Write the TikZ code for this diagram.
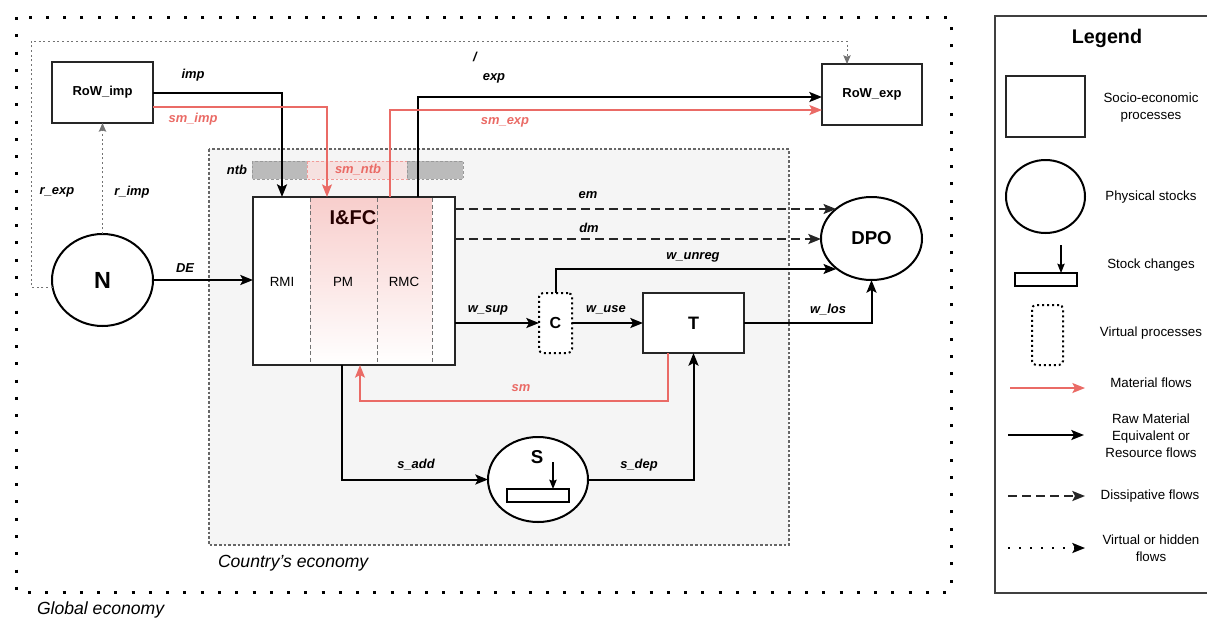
\documentclass[tikz,border=0pt]{standalone}
\usepackage{fontspec}
\setmainfont{Liberation Sans}
\usetikzlibrary{arrows.meta,calc,shapes.geometric}
\definecolor{redflow}{HTML}{EA6B66}
\definecolor{pinkfill}{HTML}{F8CECC}
\definecolor{pinkline}{HTML}{F19C99}
\definecolor{econfill}{HTML}{F5F5F5}
\definecolor{ntbgray}{HTML}{BBBBBB}
\begin{document}
\begin{tikzpicture}[x=0.75pt,y=-0.75pt,
  every node/.style={inner sep=0pt,outer sep=0pt},
  proc/.style={draw=black!85,line width=1.5pt,fill=white,rectangle},
  stock/.style={draw=black,line width=1.5pt,fill=white,ellipse},
  virtproc/.style={draw=black,line width=1.5pt,dash pattern=on 1.5pt off 2.25pt,rounded corners=3pt,fill=white,rectangle},
  tip/.style={-{Stealth[length=9.5pt,width=7.5pt,inset=2pt]}},
  rmflow/.style={tip,draw=black,line width=1.5pt},
  matflow/.style={tip,draw=redflow,line width=1.1pt},
  dissflow/.style={tip,draw=black!85,line width=1.5pt,dash pattern=on 6.75pt off 3.75pt},
  hidflow/.style={-{Stealth[length=6.5pt,width=5.5pt,inset=1pt]},draw=black!55,line width=0.75pt,dash pattern=on 1.5pt off 2pt},
  stockarrow/.style={-{Stealth[length=7pt,width=5.5pt,inset=1pt]},draw=black,line width=1pt},
  flab/.style={font=\fontsize{9.7}{11}\selectfont\bfseries\itshape},
  rflab/.style={flab,text=redflow},
  boxlab/.style={font=\fontsize{9.75}{11}\selectfont\bfseries},
  collab/.style={font=\fontsize{10}{12}\selectfont},
  leglab/.style={font=\fontsize{10}{12.7}\selectfont,align=center},
  arealab/.style={font=\fontsize{13.2}{15}\selectfont\itshape,anchor=west},
]
\useasboundingbox (0,0) rectangle (1207,619);

% Global economy frame
\draw[line width=2.25pt,dash pattern=on 2.25pt off 10.7pt] (16,17) rectangle (951,592);
% Country's economy
\draw[fill=econfill,draw=black!60,line width=2pt,dash pattern=on 2pt off 1.5pt] (209,149) rectangle (789,545);

% ntb strip
\draw[fill=ntbgray,draw=black!40,line width=0.75pt,dash pattern=on 2pt off 1.5pt] (252,161) rectangle (307,179);
\draw[fill=pinkfill,fill opacity=0.5,draw=pinkline,line width=0.75pt,dash pattern=on 2pt off 1.5pt] (307,161) rectangle (407,179);
\draw[fill=ntbgray,draw=black!40,line width=0.75pt,dash pattern=on 2pt off 1.5pt] (407,161) rectangle (463,179);

% main nodes
\node[proc,minimum width=101*0.75pt,minimum height=61*0.75pt] (RoWimp) at (102.5,92.5) {};
\node[proc,minimum width=100*0.75pt,minimum height=61*0.75pt] (RoWexp) at (872,94.5) {};
\node[stock,minimum width=101*0.75pt,minimum height=92*0.75pt] (N) at (102.5,280) {};
\node[proc,minimum width=202*0.75pt,minimum height=168*0.75pt] (IFC) at (354,281) {};
\node[virtproc,minimum width=33*0.75pt,minimum height=60*0.75pt] (C) at (555.5,323) {};
\node[proc,minimum width=101*0.75pt,minimum height=60*0.75pt] (T) at (693.5,323) {};
\node[stock,minimum width=101*0.75pt,minimum height=83*0.75pt] (DPO) at (871.5,238.5) {};
\node[stock,minimum width=100*0.75pt,minimum height=85*0.75pt] (S) at (538,479.5) {};

% I&FC interior
\shade[top color=pinkfill,bottom color=white] ($(IFC.north west)+(57,1)$) rectangle ($(IFC.south west)+(179,-1)$);
\foreach \dx in {57,124,179}{
  \draw[black!55,line width=0.5pt,dash pattern=on 3pt off 2pt] ($(IFC.north west)+(\dx,1)$) -- ($(IFC.south west)+(\dx,-1)$);
}
\draw[draw=black!85,line width=1.5pt] (IFC.north west) rectangle (IFC.south east);

% node texts
\node[boxlab] (tRoWimp) at (RoWimp.center) {RoW\_imp};
\node[boxlab] (tRoWexp) at (RoWexp.center) {RoW\_exp};
\node[font=\fontsize{17.5}{20}\selectfont\bfseries] (tN) at (N.center) {N};
\node[font=\fontsize{14}{16}\selectfont\bfseries] (tDPO) at (DPO.center) {DPO};
\node[font=\fontsize{13.5}{16}\selectfont\bfseries] (tT) at (T.center) {T};
\node[font=\fontsize{12}{14}\selectfont\bfseries] (tC) at (C.center) {C};
\node[font=\fontsize{15}{17}\selectfont\bfseries,text=black!85!red] (tIFC) at (353,218) {I\&FC};
\node[collab] (tRMI) at (282,282) {RMI};
\node[collab] (tPM) at (343,282) {PM};
\node[collab] (tRMC) at (404,282) {RMC};
\node[font=\fontsize{14}{16}\selectfont\bfseries] (tS) at (537,457) {S};
\node[draw=black,line width=1.2pt,fill=white,minimum width=62*0.75pt,minimum height=13*0.75pt] (Srect) at (538,495.5) {};
\coordinate (Sa) at (553,462);
\draw[stockarrow] (Sa) -- (Sa |- Srect.north);

% connectors: raw material / resource flows
\draw[rmflow] (RoWimp.east) -| ($(IFC.north west)+(29,0)$);
\draw[rmflow] ($(IFC.north west)+(165,0)$) |- ($(RoWexp.west)+(0,2.5)$);
\draw[rmflow] (N.east) -- (N.east -| IFC.west);
\draw[rmflow] (IFC.east |- C.west) -- (C.west);
\draw[rmflow] (C.east) -- (T.west);
\coordinate (wuc) at ($(C.north)+(0,-24)$);
\draw[rmflow] (C.north) -- (wuc) -- (wuc -| DPO.220);
\draw[rmflow] (T.east) -| (DPO.south);
\draw[rmflow] ($(IFC.south west)+(89,0)$) |- (S.west);
\draw[rmflow] (S.east) -| (T.south);

% material flows
\draw[matflow] ($(RoWimp.east)+(0,14.5)$) -| ($(IFC.north west)+(74,0)$);
\draw[matflow] ($(IFC.north west)+(137,0)$) |- ($(RoWexp.west)+(0,15.5)$);
\coordinate (smturn) at ($(T.south west)+(25,48)$);
\draw[matflow] ($(T.south west)+(25,0)$) -- (smturn) -| ($(IFC.south west)+(107,0)$);

% dissipative flows
\coordinate (ems) at ($(IFC.north east)+(0,12)$);
\coordinate (dms) at ($(IFC.north east)+(0,42)$);
\draw[dissflow] (ems) -- (ems -| DPO.140);
\draw[dissflow] (dms) -- (dms -| DPO.west);

% virtual / hidden flows
\draw[hidflow] (N.north) -- (RoWimp.south);
\coordinate (rx1) at (31,287);
\coordinate (rx2) at (31,41);
\coordinate (rx3) at ($(RoWexp.north west)+(25,0)$);
\draw[hidflow] (N.188) -- (N.188 -| rx1) -- (rx2) -- (rx2 -| rx3) -- (rx3);

% flow labels
\node[flab] (limp) at (193,75) {imp};
\node[rflab] (lsmimp) at (193,119) {sm\_imp};
\node[flab] (lexp) at (494,78) {exp};
\node[rflab] (lsmexp) at (505,122) {sm\_exp};
\node[flab] (lslash) at (475,57) {/};
\node[flab] (lrexp) at (57,192) {r\_exp};
\node[flab] (lrimp) at (132,192) {r\_imp};
\node[flab] (lDE) at (185,268) {DE};
\node[flab] (lntb) at (237,170) {ntb};
\node[rflab] (lsmntb) at (358,170) {sm\_ntb};
\node[flab] (lem) at (588,195) {em};
\node[flab] (ldm) at (589,228) {dm};
\node[flab] (lwunreg) at (693,257) {w\_unreg};
\node[flab] (lwsup) at (488,310) {w\_sup};
\node[flab] (lwuse) at (606,310) {w\_use};
\node[flab] (lwlos) at (828,310) {w\_los};
\node[rflab] (lsm) at (521,388) {sm};
\node[flab] (lsadd) at (416,465) {s\_add};
\node[flab] (lsdep) at (639,465) {s\_dep};

\node[arealab] (lcountry) at (218,563) {Country's economy};
\node[arealab] (lglobal) at (37,610) {Global economy};

% Legend
\draw[line width=2pt,draw=black!75] (995,16) rectangle (1215,593);
\node[font=\fontsize{14.8}{17}\selectfont\bfseries] (Ltitle) at (1107,38) {Legend};
\node[proc,minimum width=79*0.75pt,minimum height=61*0.75pt] (Lproc) at (1045.5,106.5) {};
\node[leglab] (Lproclab) at (1151,107.5) {Socio-economic\\processes};
\node[stock,minimum width=79*0.75pt,minimum height=73*0.75pt] (Lstock) at (1045.5,196.5) {};
\node[leglab] (Lstocklab) at (1151,197) {Physical stocks};
\node[draw=black,line width=1.2pt,fill=white,minimum width=62*0.75pt,minimum height=13*0.75pt] (Lsrect) at (1046,279.5) {};
\coordinate (Lsa) at (1061,245);
\draw[stockarrow] (Lsa) -- (Lsa |- Lsrect.north);
\node[leglab] (Lsclab) at (1151,265) {Stock changes};
\node[virtproc,minimum width=31*0.75pt,minimum height=60*0.75pt] (Lvirt) at (1047.5,335) {};
\node[leglab] (Lvirtlab) at (1151,333) {Virtual processes};
\coordinate (Lm1) at (1010,388); \coordinate (Lm2) at (1085,388);
\draw[matflow] (Lm1) -- (Lm2);
\node[leglab] (Lmatlab) at (1151,383) {Material flows};
\coordinate (Lr1) at (1008,435); \coordinate (Lr2) at (1084,435);
\draw[rmflow] (Lr1) -- (Lr2);
\node[leglab] (Lrmelab) at (1151,436) {Raw Material\\Equivalent or\\Resource flows};
\coordinate (Ld1) at (1008,496); \coordinate (Ld2) at (1085,496);
\draw[dissflow] (Ld1) -- (Ld2);
\node[leglab] (Ldislab) at (1150,496) {Dissipative flows};
\coordinate (Lh1) at (1008,548); \coordinate (Lh2) at (1085,548);
\draw[tip,draw=black,line width=1.5pt,dash pattern=on 1.5pt off 6.75pt] (Lh1) -- (Lh2);
\node[leglab] (Lhidlab) at (1151,548) {Virtual or hidden\\flows};
\end{tikzpicture}
\end{document}
